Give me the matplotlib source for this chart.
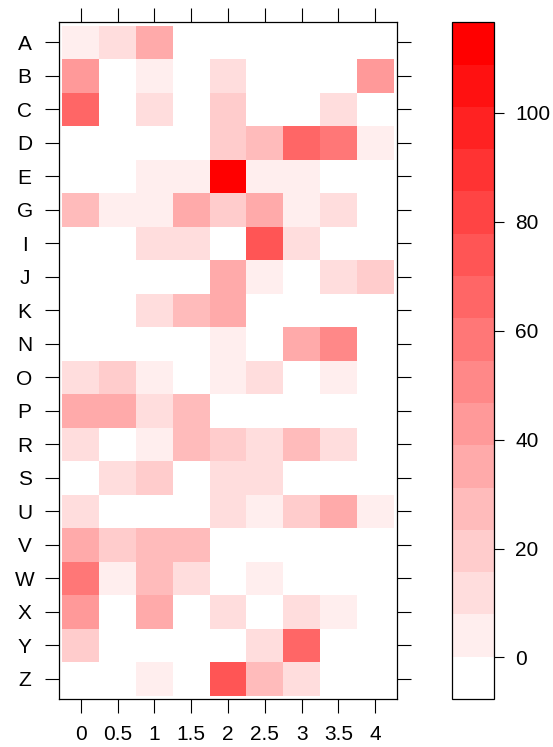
import matplotlib
matplotlib.use('Agg')
import matplotlib.pyplot as plt
from matplotlib.colors import ListedColormap, BoundaryNorm
import numpy as np

plt.rcParams['font.family'] = ['Liberation Sans', 'DejaVu Sans']

# categories and values
rows = ['A', 'B', 'C', 'D', 'E', 'G', 'I', 'J', 'K', 'N',
        'O', 'P', 'R', 'S', 'U', 'V', 'W', 'X', 'Y', 'Z']
xs = [0, 0.5, 1, 1.5, 2, 2.5, 3, 3.5, 4]
xlabels = ['0', '0.5', '1', '1.5', '2', '2.5', '3', '3.5', '4']
values = [
    [4, 12, 35, 0, 0, 0, 0, 0, 0],      # A
    [43, 0, 4, 0, 12, 0, 0, 0, 43],     # B
    [66, 0, 12, 0, 20, 0, 0, 12, 0],    # C
    [0, 0, 0, 0, 20, 27, 66, 58, 4],    # D
    [0, 0, 4, 4, 109, 4, 4, 0, 0],      # E
    [27, 4, 4, 35, 20, 35, 4, 12, 0],   # G
    [0, 0, 12, 12, 0, 74, 12, 0, 0],    # I
    [0, 0, 0, 0, 35, 4, 0, 12, 20],     # J
    [0, 0, 12, 27, 35, 0, 0, 0, 0],     # K
    [0, 0, 0, 0, 4, 0, 35, 51, 0],      # N
    [12, 20, 4, 0, 4, 12, 0, 4, 0],     # O
    [35, 35, 12, 27, 0, 0, 0, 0, 0],    # P
    [12, 0, 4, 27, 20, 12, 27, 12, 0],  # R
    [0, 12, 20, 0, 12, 12, 0, 0, 0],    # S
    [12, 0, 0, 0, 12, 4, 20, 35, 4],    # U
    [35, 20, 27, 27, 0, 0, 0, 0, 0],    # V
    [58, 4, 27, 12, 0, 4, 0, 0, 0],     # W
    [43, 0, 35, 0, 12, 0, 12, 4, 0],    # X
    [20, 0, 0, 0, 0, 12, 66, 0, 0],     # Y
    [0, 0, 4, 0, 74, 27, 12, 0, 0],     # Z
]
cbar_ticks = [0, 20, 40, 60, 80, 100]

Z = np.array(values, dtype=float)

# lattice-style levels: range padded by 7 %, 16 bands white -> red
zmin, zmax = Z.min(), Z.max()
pad = 0.07 * (zmax - zmin)
bounds = np.linspace(zmin - pad, zmax + pad, 17)
ncol = len(bounds) - 1
g = np.linspace(1, 0, ncol)
cmap = ListedColormap([(1, v, v) for v in g])
norm = BoundaryNorm(bounds, ncol)

W, H = 553, 747
fig = plt.figure(figsize=(W / 100, H / 100), dpi=100)
ax = fig.add_axes([59.3 / W, (H - 699) / H, 337.4 / W, 676.7 / H])
cax = fig.add_axes([451.7 / W, (H - 699) / H, 42.3 / W, 676.7 / H])

xe = np.append(np.array(xs) - 0.25, xs[-1] + 0.25)
ye = np.arange(len(rows) + 1) - 0.5
mesh = ax.pcolormesh(xe, ye, Z, cmap=cmap, norm=norm, edgecolors='none')

ax.set_xlim(-0.293, 4.293)
ax.set_ylim(len(rows) - 1 + 0.597, -0.597)
ax.set_xticks(xs)
ax.set_xticklabels(xlabels, fontsize=15)
ax.set_yticks(range(len(rows)))
ax.set_yticklabels(rows, fontsize=15, ha='center')
ax.tick_params(direction='out', length=10, width=0.8, top=True, right=True,
               labeltop=False, labelright=False)
ax.tick_params(axis='x', pad=8.5)
ax.tick_params(axis='y', pad=15)
for s in ax.spines.values():
    s.set_linewidth(0.9)

cb = fig.colorbar(mesh, cax=cax, ticks=cbar_ticks)
cb.minorticks_off()
cb.outline.set_linewidth(0.9)
cax.tick_params(direction='out', length=7.2, width=0.8, pad=8, labelsize=15)

fig.savefig('out.png', dpi=100)
